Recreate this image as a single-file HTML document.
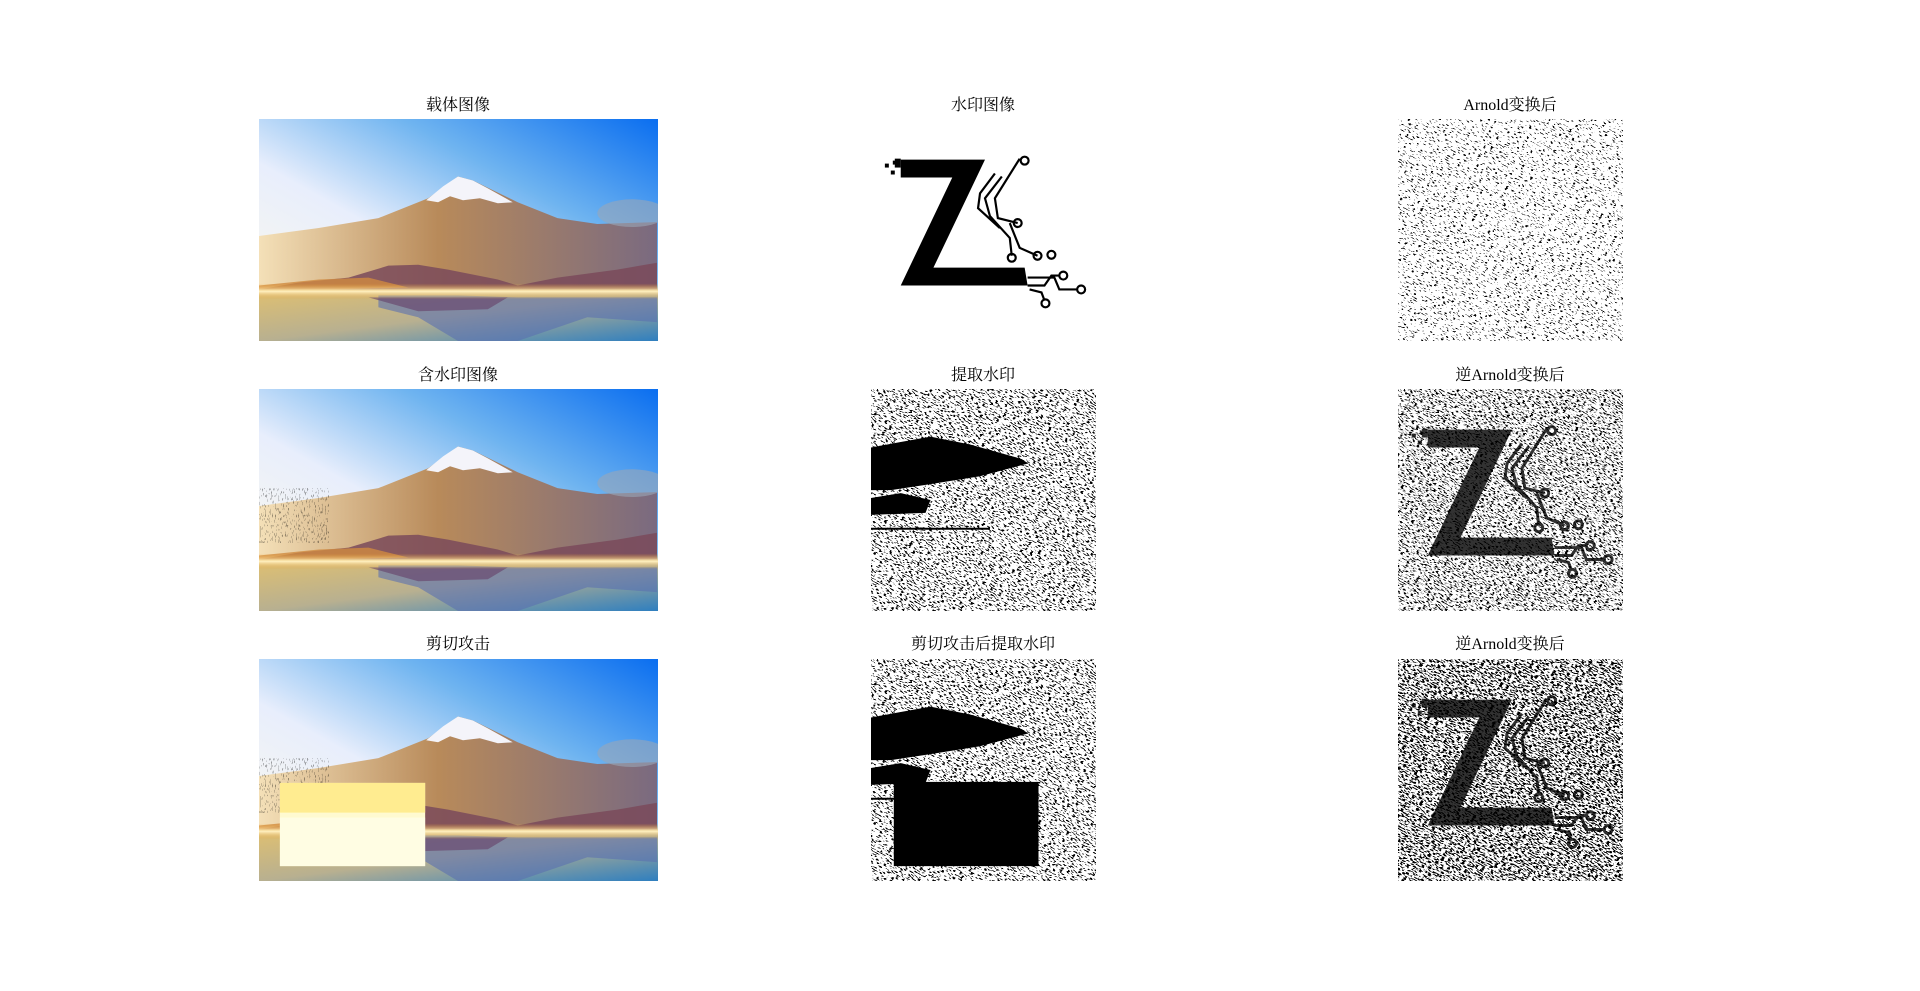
<!DOCTYPE html>
<html><head><meta charset="utf-8">
<style>
html,body{margin:0;padding:0;background:#fff;width:1920px;height:991px;overflow:hidden}
.t{position:absolute;font-family:"Liberation Serif","Noto Serif CJK SC",serif;font-size:16px;color:#000;transform:translateX(-50%);white-space:nowrap;line-height:18px}
svg.p{position:absolute;display:block}
</style></head><body>
<svg width="0" height="0" style="position:absolute">
<defs>
<filter id="nz1" x="0" y="0" width="100%" height="100%"><feTurbulence type="fractalNoise" baseFrequency="0.9 0.3" numOctaves="1" seed="4"/><feColorMatrix type="matrix" values="0 0 0 0 0 0 0 0 0 0 0 0 0 0 0 22 0 0 0 -13.2"/></filter>
<filter id="nz2" x="0" y="0" width="100%" height="100%"><feTurbulence type="fractalNoise" baseFrequency="0.9 0.3" numOctaves="1" seed="9"/><feColorMatrix type="matrix" values="0 0 0 0 0 0 0 0 0 0 0 0 0 0 0 22 0 0 0 -12.2"/></filter>
<filter id="nz3" x="0" y="0" width="100%" height="100%"><feTurbulence type="fractalNoise" baseFrequency="0.9 0.3" numOctaves="1" seed="13"/><feColorMatrix type="matrix" values="0 0 0 0 0 0 0 0 0 0 0 0 0 0 0 22 0 0 0 -11.2"/></filter>
<linearGradient id="sky" x1="0" y1="1" x2="1" y2="0"><stop offset="0" stop-color="#fffbea"/><stop offset="0.4" stop-color="#e8eefc"/><stop offset="0.68" stop-color="#6fb4f0"/><stop offset="1" stop-color="#0a6ef0"/></linearGradient>
<linearGradient id="mt" x1="0" y1="0" x2="1" y2="0"><stop offset="0" stop-color="#f4e0b8"/><stop offset="0.45" stop-color="#b88a5a"/><stop offset="1" stop-color="#7a6a80"/></linearGradient>
<linearGradient id="wt" x1="0" y1="0" x2="1" y2="1"><stop offset="0" stop-color="#e0c070"/><stop offset="0.5" stop-color="#b8b090"/><stop offset="1" stop-color="#2f7fbf"/></linearGradient>
<linearGradient id="gl" x1="0" y1="0" x2="0" y2="1"><stop offset="0" stop-color="#e8a030" stop-opacity="0"/><stop offset="0.5" stop-color="#fff0c0"/><stop offset="1" stop-color="#e0a040" stop-opacity="0"/></linearGradient>
</defs></svg>

<div class="t" style="left:458px;top:97px">载体图像</div>
<div class="t" style="left:983px;top:97px">水印图像</div>
<div class="t" style="left:1510px;top:97px">Arnold变换后</div>
<div class="t" style="left:458px;top:367px">含水印图像</div>
<div class="t" style="left:983px;top:367px">提取水印</div>
<div class="t" style="left:1510px;top:367px">逆Arnold变换后</div>
<div class="t" style="left:458px;top:636px">剪切攻击</div>
<div class="t" style="left:983px;top:636px">剪切攻击后提取水印</div>
<div class="t" style="left:1510px;top:636px">逆Arnold变换后</div>

<div id="host"></div>
<script>
const land = (wm, crop) => `
<rect width="401" height="224" fill="url(#sky)"/>
<polygon points="0,118 60,110 120,100 170,80 200,58 215,62 260,84 300,100 340,106 400,104 400,175 0,175" fill="url(#mt)"/>
<polygon points="200,58 185,68 168,82 180,84 192,78 205,82 222,80 240,85 255,84 230,70 215,62" fill="#f4f4fa"/>
<ellipse cx="375" cy="95" rx="35" ry="14" fill="#9aa6b8" opacity="0.6"/>
<polygon points="0,172 40,165 90,160 130,148 160,147 190,152 240,162 260,168 300,160 360,152 400,145 400,178 0,178" fill="#7a4a5a" opacity="0.85"/>
<polygon points="0,168 60,162 110,160 150,170 0,174" fill="#d08a40" opacity="0.8"/>
<rect y="172" width="401" height="52" fill="url(#wt)"/>
<polygon points="120,178 200,178 260,180 400,180 400,205 330,200 260,224 200,224 160,200 120,190" fill="#5a70b0" opacity="0.6"/>
<polygon points="110,180 250,180 230,192 160,194" fill="#6a4a70" opacity="0.7"/>
<rect y="166" width="401" height="16" fill="url(#gl)"/>
${wm ? '<rect x="0" y="100" width="70" height="55" fill="#8a90a0" opacity="0.35" filter="url(#nz1)"/>' : ''}
${crop ? '<rect x="21" y="125" width="146" height="84" fill="#fffad0"/><rect x="21" y="125" width="146" height="30" fill="#ffe880" opacity="0.8"/><rect x="21" y="160" width="146" height="49" fill="#fffff0" opacity="0.6"/>' : ''}`;

const noise = (f) => `<rect width="227" height="224" fill="#fff"/><g transform="rotate(-60 113 112)"><rect x="-80" y="-80" width="390" height="390" filter="url(#${f})"/></g>`;
const zpoly = '30,41 115,41 63,150 155,150 158,168 30,168 82,59 30,59';
const circuit = (o) => `<g fill="none" stroke="#000" stroke-width="${o}" opacity="1">
<polyline points="125,55 110,75 108,90 130,110"/><polyline points="132,58 115,80 120,98 140,120 142,138"/><polyline points="150,40 125,80 128,100 148,105"/>
<polyline points="140,105 150,130 168,138"/><polyline points="158,168 175,168 182,158 190,158"/><polyline points="158,160 185,160 190,172 208,172"/><polyline points="160,172 172,175 175,183"/>
<circle cx="155" cy="42" r="4"/><circle cx="148" cy="105" r="4"/><circle cx="142" cy="140" r="4"/><circle cx="168" cy="138" r="4"/><circle cx="182" cy="137" r="4"/><circle cx="194" cy="158" r="4"/><circle cx="212" cy="172" r="4"/><circle cx="176" cy="186" r="4"/></g>
<rect x="14" y="45" width="4" height="4"/><rect x="22" y="42" width="4" height="4"/><rect x="20" y="52" width="4" height="4"/><rect x="24" y="40" width="6" height="9"/>`;
const blob = `<polygon points="0,59 60,48 100,56 150,70 159,75 110,88 60,96 20,102 0,102"/><polygon points="0,110 30,105 60,112 55,125 0,127"/><rect x="0" y="140" width="120" height="2"/>`;

const panels = [
 [259,119,399,222,401,224, land(false,false)],
 [871,119,225,222,227,224, `<rect width="227" height="224" fill="#fff"/><polygon points="${zpoly}"/>${circuit(2.2)}`],
 [1398,119,225,222,227,224, noise('nz1')],
 [259,389,399,222,401,224, land(true,false)],
 [871,389,225,222,227,224, noise('nz2') + blob],
 [1398,389,225,222,227,224, noise('nz2') + `<g opacity="0.8"><polygon points="${zpoly}"/>${circuit(3)}</g>` + '<g transform="rotate(-60 113 112)"><rect x="-80" y="-80" width="390" height="390" fill="#fff" filter="url(#nz1)" opacity="0.35"/></g>'],
 [259,659,399,222,401,224, land(true,true)],
 [871,659,225,222,227,224, noise('nz2') + blob + '<rect x="23" y="124" width="146" height="85"/>'],
 [1398,659,225,222,227,224, noise('nz3') + `<g opacity="0.8"><polygon points="${zpoly}"/>${circuit(3)}</g>`]
];
const names = ['cover-image','watermark-image','arnold-image','watermarked-image','extracted-watermark','inverse-arnold-image','crop-attack-image','crop-extracted-watermark','inverse-arnold-image-2'];
const host = document.getElementById('host');
panels.forEach((p, i) => {
  const s = document.createElementNS('http://www.w3.org/2000/svg','svg');
  s.setAttribute('class','p');
  s.setAttribute('width',p[2]); s.setAttribute('height',p[3]);
  s.setAttribute('viewBox',`0 0 ${p[4]} ${p[5]}`);
  s.setAttribute('preserveAspectRatio','none');
  s.style.left = p[0]+'px'; s.style.top = p[1]+'px';
  
  
  s.innerHTML = p[6];
  host.appendChild(s);
});
</script>
</body></html>
